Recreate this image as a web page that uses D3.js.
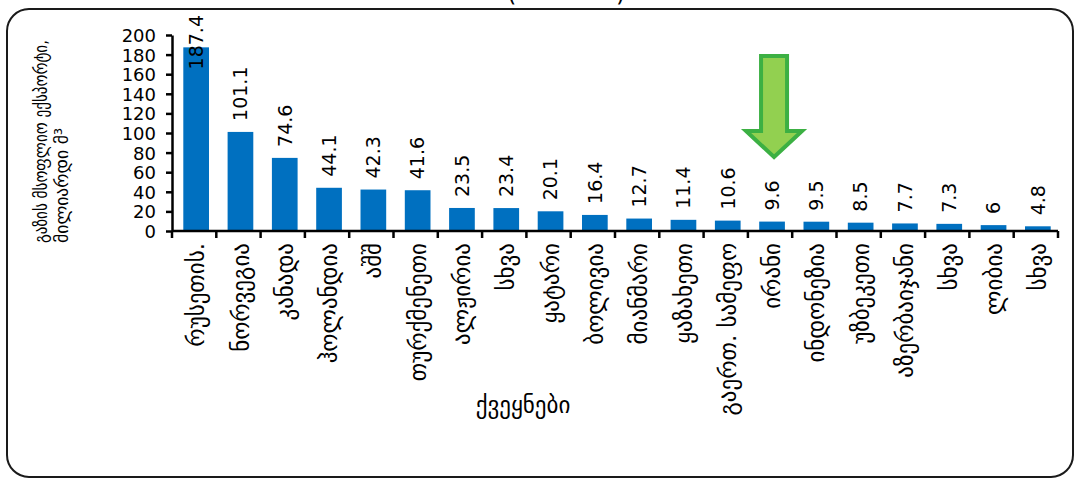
<!DOCTYPE html>
<html>
<head>
<meta charset="utf-8">
<script src="https://cdn.jsdelivr.net/npm/d3@7"></script>
<style>
  body { margin: 0; background: #fff; overflow: hidden; }
  svg { display: block; }
  .num { font-family: "DejaVu Sans", sans-serif; font-size: 19px; fill: #000; }
  .geo { font-family: "DejaVu Sans", sans-serif; fill: #000; }
</style>
</head>
<body>
<div id="app"></div>
<script>
// data
var categories = ["რუსეთის.", "ნორვეგია", "კანადა", "ჰოლანდია", "აშშ", "თურქმენეთი",
  "ალჟირია", "სხვა", "ყატარი", "ბოლივია", "მიანმარი", "ყაზახეთი", "გაერთ. სამეფო",
  "ირანი", "ინდონეზია", "უზბეკეთი", "აზერბაიჯანი", "სხვა", "ლიბია", "სხვა"];
var values = [187.4, 101.1, 74.6, 44.1, 42.3, 41.6, 23.5, 23.4, 20.1, 16.4, 12.7, 11.4,
  10.6, 9.6, 9.5, 8.5, 7.7, 7.3, 6, 4.8];
var valueLabels = ["187.4", "101.1", "74.6", "44.1", "42.3", "41.6", "23.5", "23.4", "20.1",
  "16.4", "12.7", "11.4", "10.6", "9.6", "9.5", "8.5", "7.7", "7.3", "6", "4.8"];
var yTicks = [0, 20, 40, 60, 80, 100, 120, 140, 160, 180, 200];
var yTitle = ["გაზის მსოფლიო ექსპორტი,", "მილიარდი მ³"];
var yTitleLen = [203, 115];
var xTitle = "ქვეყნები";
var highlighted = "ირანი";

var W = 1075, H = 478;
var plot = { left: 172, right: 1058, top: 35, bottom: 231 };

var svg = d3.select("#app").append("svg")
  .attr("width", W).attr("height", H);

// frame round the chart
svg.append("rect")
  .attr("x", 7).attr("y", 9)
  .attr("width", 1066).attr("height", 468)
  .attr("rx", 22).attr("ry", 22)
  .attr("fill", "#fff")
  .attr("stroke", "#1a1a1a").attr("stroke-width", 2);

// title cut off at the top, only the brackets show
svg.append("text").attr("class", "num").attr("x", 507).attr("y", 1)
  .style("font-size", "24px").text("(");
svg.append("text").attr("class", "num").attr("x", 616).attr("y", 1)
  .style("font-size", "24px").text(")");

var x = d3.scaleBand()
  .domain(d3.range(categories.length))
  .range([plot.left, plot.right])
  .paddingInner(0.42)
  .paddingOuter(0.21);

var y = d3.scaleLinear()
  .domain([0, 200])
  .range([plot.bottom, plot.top]);

// bars
svg.append("g").selectAll("rect")
  .data(values)
  .enter().append("rect")
  .attr("x", function(d, i) { return x(i) + 2; })
  .attr("width", x.bandwidth())
  .attr("y", function(d) { return y(d); })
  .attr("height", function(d) { return y(0) - y(d); })
  .attr("fill", "#0070c0");

// y axis
var yAxis = svg.append("g")
  .attr("transform", "translate(" + plot.left + ",0)")
  .call(d3.axisLeft(y).tickValues(yTicks).tickSize(6).tickSizeOuter(0).tickPadding(10));
yAxis.select(".domain").attr("stroke", "#000").attr("stroke-width", 2.5);
yAxis.selectAll(".tick line").attr("stroke", "#000").attr("stroke-width", 2.5);
yAxis.selectAll(".tick text").attr("class", "num").attr("fill", "#000")
  .style("font-size", "18px").attr("dy", "0.36em");

// x axis: ticks sit between categories
var xAxisG = svg.append("g");
xAxisG.append("line")
  .attr("x1", plot.left).attr("x2", plot.right)
  .attr("y1", plot.bottom).attr("y2", plot.bottom)
  .attr("stroke", "#000").attr("stroke-width", 2.5);
var step = x.step();
function edge(i) {
  return i < categories.length ? x(i) - x.paddingOuter() * step
    : x(i - 1) + x.bandwidth() + x.paddingOuter() * step;
}
xAxisG.selectAll("line.tk")
  .data(d3.range(categories.length + 1))
  .enter().append("line").attr("class", "tk")
  .attr("x1", edge).attr("x2", edge)
  .attr("y1", plot.bottom).attr("y2", plot.bottom + 7)
  .attr("stroke", "#000").attr("stroke-width", 2.5);

// category labels, rotated
svg.append("g").selectAll("text")
  .data(categories)
  .enter().append("text")
  .attr("class", "geo")
  .style("font-size", "23px")
  .attr("text-anchor", "end")
  .attr("transform", function(d, i) {
    return "translate(" + (x(i) + x.bandwidth() / 2 + 2) + "," + (plot.bottom + 12) + ") rotate(-90)";
  })
  .attr("dy", "0.35em")
  .text(function(d) { return d; });

// value labels above bars, kept inside the chart at the top
var vl = svg.append("g").selectAll("text")
  .data(values)
  .enter().append("text")
  .attr("class", "num")
  .attr("text-anchor", "start")
  .attr("dy", "0.36em")
  .text(function(d, i) { return valueLabels[i]; });
vl.attr("transform", function(d, i) {
  var len = this.getComputedTextLength();
  var yy = Math.max(y(d) - 11, 15 + len);
  return "translate(" + (x(i) + x.bandwidth() / 2 + 2) + "," + yy + ") rotate(-90)";
});

// axis titles
svg.append("g").selectAll("text")
  .data(yTitle)
  .enter().append("text")
  .attr("class", "geo")
  .style("font-size", "18px")
  .attr("text-anchor", "start")
  .attr("dy", "0.35em")
  .attr("textLength", function(d, i) { return yTitleLen[i]; })
  .attr("lengthAdjust", "spacingAndGlyphs")
  .attr("transform", function(d, i) { return "translate(" + (41 + i * 21) + ",243) rotate(-90)"; })
  .text(function(d) { return d; });

svg.append("text")
  .attr("class", "geo")
  .style("font-size", "23px")
  .attr("text-anchor", "middle")
  .attr("x", 523).attr("y", 413)
  .text(xTitle);

// green arrow pointing at the highlighted bar
var ai = categories.indexOf(highlighted);
var cx = x(ai) + x.bandwidth() / 2 + 4;
var arrow = d3.path();
arrow.moveTo(cx - 13, 56);
arrow.lineTo(cx + 13, 56);
arrow.lineTo(cx + 13, 131);
arrow.lineTo(cx + 28, 131);
arrow.lineTo(cx, 157);
arrow.lineTo(cx - 28, 131);
arrow.lineTo(cx - 13, 131);
arrow.closePath();
svg.append("path")
  .attr("d", arrow.toString())
  .attr("fill", "#92d050")
  .attr("stroke", "#3cb043")
  .attr("stroke-width", 4)
  .attr("stroke-linejoin", "miter");
</script>
</body>
</html>
